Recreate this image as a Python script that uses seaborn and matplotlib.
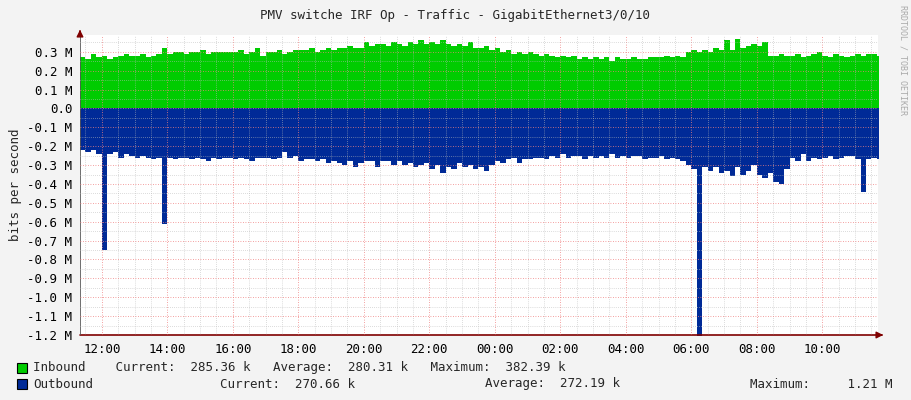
import numpy as np
import matplotlib
matplotlib.use("Agg")
import matplotlib.pyplot as plt
import seaborn as sns
from matplotlib.ticker import MultipleLocator, FixedLocator

# 10-minute samples from 11:20 to 11:40 next day (values in M bits/s)
start_minutes = -40  # relative to 12:00
inbound = [
    0.27, 0.26, 0.29, 0.27,
    0.28, 0.26, 0.27, 0.28, 0.29, 0.28,
    0.28, 0.29, 0.27, 0.28, 0.29, 0.32,
    0.29, 0.30, 0.30, 0.29, 0.30, 0.30,
    0.31, 0.29, 0.30, 0.30, 0.30, 0.30,
    0.30, 0.31, 0.29, 0.30, 0.32, 0.28,
    0.30, 0.30, 0.31, 0.29, 0.30, 0.31,
    0.31, 0.31, 0.32, 0.30, 0.31, 0.32,
    0.31, 0.32, 0.32, 0.33, 0.32, 0.32,
    0.35, 0.33, 0.34, 0.34, 0.33, 0.35,
    0.34, 0.33, 0.35, 0.34, 0.36, 0.34,
    0.35, 0.34, 0.36, 0.34, 0.33, 0.34,
    0.33, 0.35, 0.32, 0.32, 0.33, 0.31,
    0.32, 0.30, 0.31, 0.29, 0.30, 0.29,
    0.30, 0.29, 0.28, 0.29, 0.28, 0.27,
    0.28, 0.27, 0.28, 0.26, 0.27, 0.26,
    0.27, 0.26, 0.27, 0.25, 0.27, 0.26,
    0.26, 0.27, 0.26, 0.26, 0.27, 0.27,
    0.27, 0.28, 0.27, 0.28, 0.27, 0.30,
    0.31, 0.30, 0.31, 0.30, 0.32, 0.31,
    0.36, 0.31, 0.37, 0.32, 0.33, 0.34,
    0.33, 0.35, 0.28, 0.28, 0.29, 0.28,
    0.28, 0.29, 0.27, 0.28, 0.29, 0.30,
    0.28, 0.27, 0.29, 0.28, 0.27, 0.28,
    0.29, 0.28, 0.29, 0.29, 0.28,
]
outbound = [
    0.22, 0.23, 0.22, 0.24,
    0.75, 0.24, 0.23, 0.26, 0.24, 0.25,
    0.26, 0.25, 0.26, 0.27, 0.26, 0.61,
    0.26, 0.27, 0.26, 0.26, 0.27, 0.26,
    0.27, 0.28, 0.26, 0.27, 0.26, 0.26,
    0.27, 0.26, 0.27, 0.28, 0.26, 0.26,
    0.26, 0.27, 0.26, 0.23, 0.26, 0.25,
    0.28, 0.27, 0.27, 0.28, 0.27, 0.29,
    0.28, 0.29, 0.30, 0.28, 0.31, 0.29,
    0.28, 0.28, 0.31, 0.28, 0.28, 0.30,
    0.28, 0.30, 0.29, 0.31, 0.30, 0.29,
    0.32, 0.30, 0.34, 0.31, 0.32, 0.29,
    0.31, 0.30, 0.32, 0.31, 0.33, 0.30,
    0.28, 0.29, 0.27, 0.26, 0.29, 0.27,
    0.27, 0.26, 0.26, 0.27, 0.25, 0.26,
    0.24, 0.26, 0.25, 0.25, 0.27, 0.25,
    0.26, 0.25, 0.26, 0.24, 0.26, 0.25,
    0.26, 0.25, 0.25, 0.27, 0.26, 0.26,
    0.25, 0.27, 0.26, 0.27, 0.28, 0.30,
    0.32, 1.21, 0.31, 0.33, 0.31, 0.34,
    0.33, 0.36, 0.31, 0.35, 0.33, 0.30,
    0.35, 0.37, 0.34, 0.39, 0.40, 0.32,
    0.26, 0.28, 0.24, 0.28, 0.26, 0.27,
    0.26, 0.25, 0.27, 0.26, 0.25, 0.25,
    0.27, 0.44, 0.27, 0.26, 0.27,
]
tick_labels = ["12:00", "14:00", "16:00", "18:00", "20:00", "22:00",
               "00:00", "02:00", "04:00", "06:00", "08:00", "10:00"]
y_ticks = [0.3, 0.2, 0.1, 0.0, -0.1, -0.2, -0.3, -0.4, -0.5, -0.6,
           -0.7, -0.8, -0.9, -1.0, -1.1, -1.2]

sns.set_style("white")
plt.rcParams["font.family"] = ["DejaVu Sans Mono"]

hours = (start_minutes + 10 * np.arange(len(inbound))) / 60.0
inb = np.array(inbound)
outb = -np.array(outbound)

fig = plt.figure(figsize=(9.11, 4.0), dpi=100, facecolor="#F3F3F3")
ax = fig.add_axes([80 / 911, 65 / 400, 798 / 911, 300 / 400])
ax.set_facecolor("white")

x_end = hours[-1] + 10 / 60
xs = np.append(hours, x_end)
ax.fill_between(xs, np.append(inb, inb[-1]), step="post", color="#00CC00", lw=0)
ax.fill_between(xs, np.append(outb, outb[-1]), step="post", color="#002A97", lw=0)

ax.set_xlim(-40 / 60, -40 / 60 + 798 / 32.75)
ax.set_ylim(-1.2, 0.389)

ax.xaxis.set_major_locator(FixedLocator(np.arange(0, 24, 2)))
ax.xaxis.set_minor_locator(MultipleLocator(0.5))
ax.yaxis.set_major_locator(FixedLocator(y_ticks))
ax.yaxis.set_minor_locator(MultipleLocator(0.05))
ax.set_xticklabels(tick_labels)
ax.set_yticklabels(["%.1f M" % v if abs(v) > 1e-9 else "0.0" for v in y_ticks])
ax.grid(which="minor", color="#BBBBBB", ls=(0, (1, 2)), lw=0.5)
ax.grid(which="major", color="#F08080", ls=(0, (1, 2)), lw=0.6)
ax.set_axisbelow(False)
ax.tick_params(which="both", length=2, labelsize=9, colors="#000000")
ax.tick_params(which="major", color="#F08080")
for s in ax.spines.values():
    s.set_visible(False)
ax.axhline(-1.2, color="#7F0000", lw=1.2, clip_on=False)
ax.axvline(-40 / 60, color="#555555", lw=1.2)
ax.annotate("", xy=(886 / 911, 65 / 400), xytext=(878 / 911, 65 / 400),
            xycoords="figure fraction",
            arrowprops=dict(arrowstyle="-|>", color="#7F0000", lw=1))
ax.annotate("", xy=(80 / 911, 373 / 400), xytext=(80 / 911, 365 / 400),
            xycoords="figure fraction",
            arrowprops=dict(arrowstyle="-|>", color="#7F0000", lw=1))
ax.set_ylabel("bits per second", fontsize=9, labelpad=4)

fig.text(0.5, 1 - 15 / 400, "PMV switche IRF Op - Traffic - GigabitEthernet3/0/10",
         ha="center", va="center", fontsize=9)
fig.text(903 / 911, 1 - 60 / 400, "RRDTOOL / TOBI OETIKER", rotation=270,
         ha="center", va="center", fontsize=6, color="#AAAAAA")

for y, col in [(368, "#00CC00"), (384, "#002A97")]:
    fig.patches.append(plt.Rectangle((17 / 911, 1 - (y + 5) / 400), 10 / 911, 10 / 400,
                                     transform=fig.transFigure, facecolor=col,
                                     edgecolor="black", lw=0.8))
fs = 9
fig.text(33 / 911, 1 - 368 / 400, "Inbound    Current:  285.36 k   Average:  280.31 k   Maximum:  382.39 k",
         va="center", fontsize=fs)
fig.text(33 / 911, 1 - 384 / 400, "Outbound", va="center", fontsize=fs)
fig.text(220 / 911, 1 - 384 / 400, "Current:  270.66 k", va="center", fontsize=fs)
fig.text(485 / 911, 1 - 384 / 400, "Average:  272.19 k", va="center", fontsize=fs)
fig.text(750 / 911, 1 - 384 / 400, "Maximum:     1.21 M", va="center", fontsize=fs)

fig.savefig("out.png", dpi=100, facecolor=fig.get_facecolor())
